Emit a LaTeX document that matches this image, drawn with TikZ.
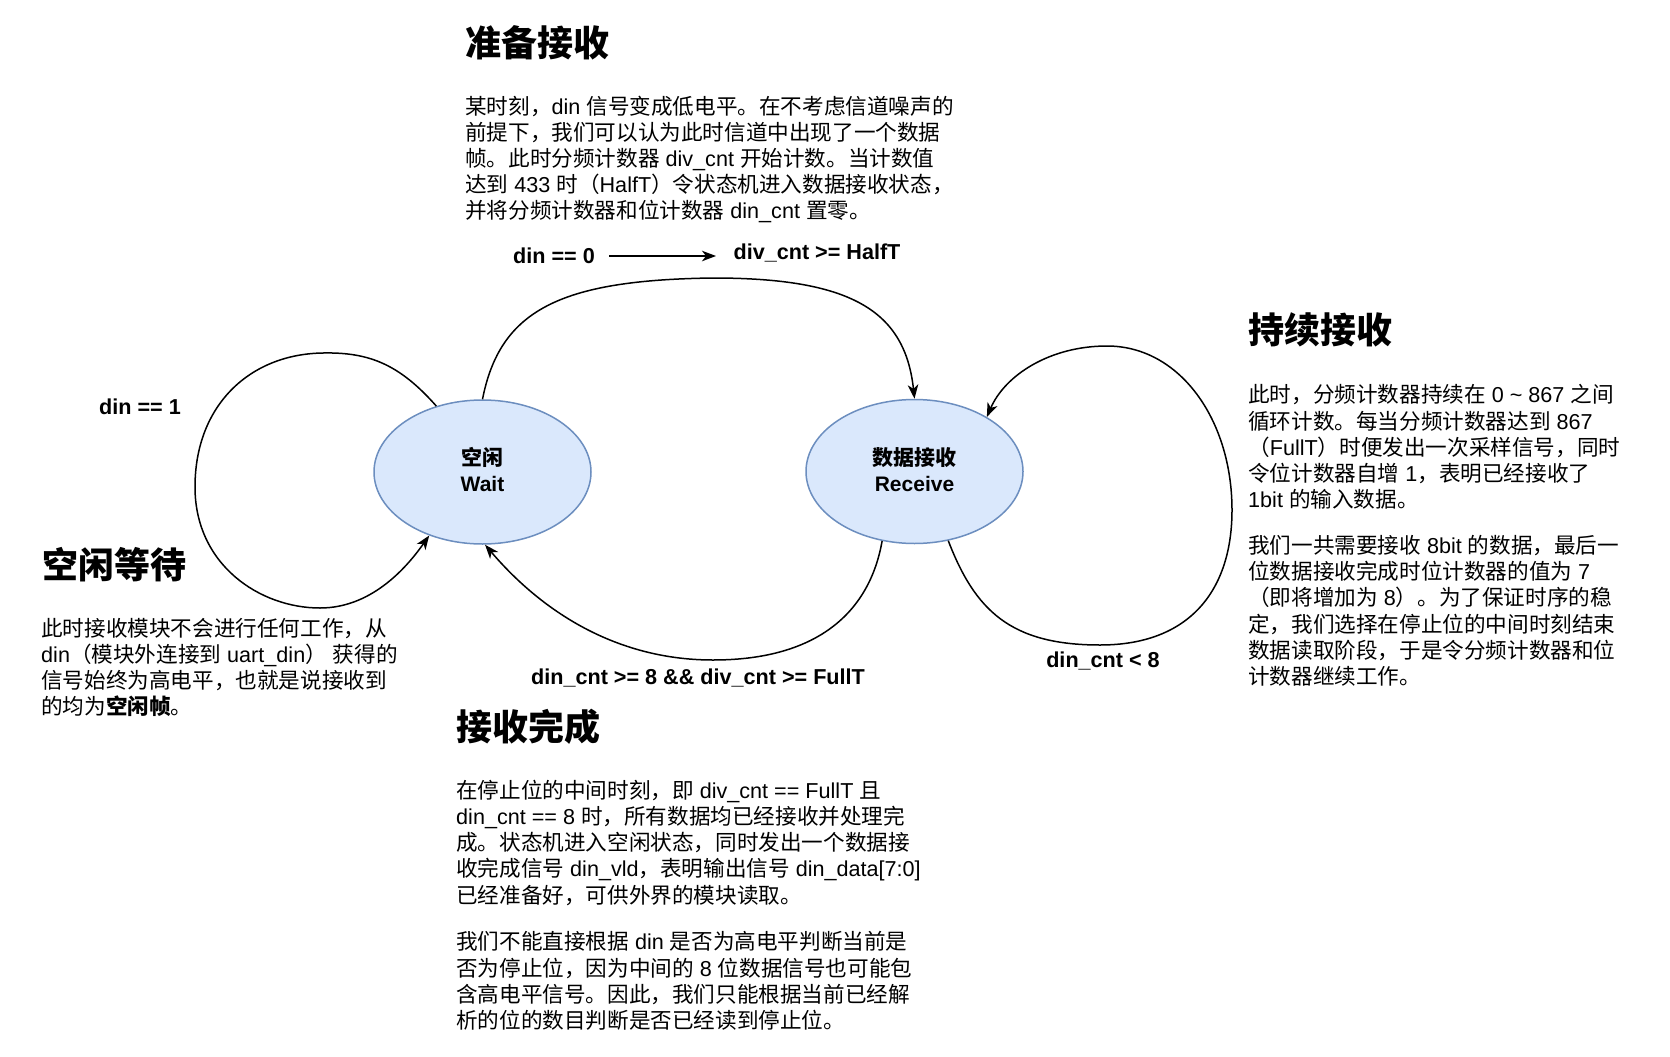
\documentclass[tikz,border=0pt]{standalone}
\usepackage{fontspec}
\setmainfont{Liberation Sans}
\newfontfamily\cjkfam{Noto Sans CJK SC}
\newfontfamily\latfam{Liberation Sans}
\usetikzlibrary{shapes.geometric,arrows.meta}
\XeTeXinterchartokenstate=1
\newXeTeXintercharclass\CJKclass
\newcount\cjkc
\def\setcjkrange#1#2{\cjkc=#1\relax\loop\XeTeXcharclass\cjkc=\CJKclass\relax\ifnum\cjkc<#2\advance\cjkc by 1\repeat}
\setcjkrange{"3000}{"303F}
\setcjkrange{"4E00}{"9FFF}
\setcjkrange{"FF00}{"FFEF}
\XeTeXinterchartoks 0 \CJKclass = {\cjkfam}
\XeTeXinterchartoks 4095 \CJKclass = {\cjkfam}
\XeTeXinterchartoks \CJKclass 0 = {\latfam}
\XeTeXinterchartoks \CJKclass 4095 = {\latfam}
\definecolor{fillc}{HTML}{DAE8FC}
\definecolor{strokec}{HTML}{6C8EBF}
\tikzset{
 stnode/.style={ellipse, draw=strokec, fill=fillc, line width=1.5pt, minimum width=217pt, minimum height=144pt, inner sep=0pt, align=center, font=\bfseries\fontsize{21}{26}\selectfont},
 para/.style={anchor=west, align=left, inner sep=0pt, font=\fontsize{21.6}{26.2}\selectfont},
 ttl/.style={anchor=west, inner sep=0pt, font=\bfseries\fontsize{36}{43}\selectfont},
 lbl/.style={anchor=base, inner sep=0pt, font=\bfseries\fontsize{21.6}{26}\selectfont},
 conn/.style={line width=1.5pt, -{Stealth[length=14pt,width=10.5pt,inset=4pt]}}
}
\begin{document}
\begin{tikzpicture}[x=1pt,y=-1pt]
\fill[white] (0,0) rectangle (1670,1057);
\useasboundingbox (0,0) rectangle (1670,1057);

% states
\node[stnode] (wait) at (482.5,472) {空闲\\Wait\vphantom{g}};
\node[stnode] (recv) at (914.5,471.5) {数据接收\\Receive\vphantom{g}};

% titles
\node[ttl] (t1) at (465,43) {准备接收};
\node[ttl] (t2) at (42,565) {空闲等待};
\node[ttl] (t3) at (456,727) {接收完成};
\node[ttl] (t4) at (1248,330) {持续接收};

% paragraphs
\node[para] (p1) at (465,159.5) {某时刻，din 信号变成低电平。在不考虑信道噪声的\\前提下，我们可以认为此时信道中出现了一个数据\\帧。此时分频计数器 div\_cnt 开始计数。当计数值\\达到 433 时（HalfT）令状态机进入数据接收状态，\\并将分频计数器和位计数器 din\_cnt 置零。};
\node[para] (p2) at (41,667.5) {此时接收模块不会进行任何工作，从\\din（模块外连接到 uart\_din） 获得的\\信号始终为高电平，也就是说接收到\\的均为\textbf{空闲帧}。};
\node[para] (p3) at (456,842.6) {在停止位的中间时刻，即 div\_cnt == FullT 且\\din\_cnt == 8 时，所有数据均已经接收并处理完\\成。状态机进入空闲状态，同时发出一个数据接\\收完成信号 din\_vld，表明输出信号 din\_data[7:0]\\已经准备好，可供外界的模块读取。};
\node[para] (p4) at (456,981) {我们不能直接根据 din 是否为高电平判断当前是\\否为停止位，因为中间的 8 位数据信号也可能包\\含高电平信号。因此，我们只能根据当前已经解\\析的位的数目判断是否已经读到停止位。};
\node[para] (p5) at (1248,447) {此时，分频计数器持续在 0 \textasciitilde{} 867 之间\\循环计数。每当分频计数器达到 867\\（FullT）时便发出一次采样信号，同时\\令位计数器自增 1，表明已经接收了\\1bit 的输入数据。};
\node[para] (p6) at (1248,610.8) {我们一共需要接收 8bit 的数据，最后一\\位数据接收完成时位计数器的值为 7\\（即将增加为 8）。为了保证时序的稳\\定，我们选择在停止位的中间时刻结束\\数据读取阶段，于是令分频计数器和位\\计数器继续工作。};

% edge labels
\node[lbl] (l1) at (554,263.5) {din == 0};
\node[lbl] (l2) at (817,259.5) {div\_cnt >= HalfT};
\node[lbl] (l3) at (140,414.5) {din == 1};
\node[lbl] (l4) at (698,684.5) {din\_cnt >= 8 \&\& div\_cnt >= FullT};
\node[lbl] (l5) at (1103,667.5) {din\_cnt < 8};

% standalone arrow
\coordinate (ha) at (609,256);
\coordinate (hb) at (716,256);
\draw[conn] (ha) -- (hb);

% connectors
\draw[conn] (wait.north) .. controls (500,310) and (560,280) .. (713,278)
  .. controls (850,278) and (905,310) .. (recv.north);
\draw[conn] (recv.245) .. controls (870,610) and (820,660) .. (713,660)
  .. controls (620,660) and (545,615) .. (wait.272);
\draw[conn] (wait.125) .. controls (400,365) and (370,352) .. (323,353)
  .. controls (250,354) and (195,405) .. (195,487)
  .. controls (195,565) and (260,608) .. (320,608)
  .. controls (370,608) and (405,570) .. (wait.230);
\draw[conn] (recv.296) .. controls (975,610) and (1010,645) .. (1100,645)
  .. controls (1190,645) and (1232,590) .. (1232,510)
  .. controls (1232,420) and (1180,346) .. (1107,346)
  .. controls (1050,346) and (1005,375) .. (recv.37);
\end{tikzpicture}
\end{document}
